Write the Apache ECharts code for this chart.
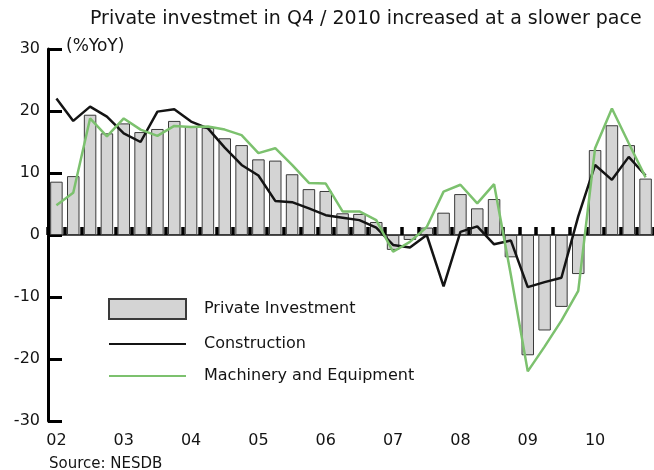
<!DOCTYPE html>
<html>
<head>
<meta charset="utf-8">
<script src="https://cdn.jsdelivr.net/npm/echarts@6/dist/echarts.min.js"></script>
<style>
  html, body { margin: 0; padding: 0; background: #ffffff; }
  #chart { width: 654px; height: 470px; }
</style>
</head>
<body>
<div id="chart"></div>
<script>
// Quarterly periods, 2002 Q1 - 2010 Q4
const quarters = [
  '2002Q1','2002Q2','2002Q3','2002Q4','2003Q1','2003Q2','2003Q3','2003Q4',
  '2004Q1','2004Q2','2004Q3','2004Q4','2005Q1','2005Q2','2005Q3','2005Q4',
  '2006Q1','2006Q2','2006Q3','2006Q4','2007Q1','2007Q2','2007Q3','2007Q4',
  '2008Q1','2008Q2','2008Q3','2008Q4','2009Q1','2009Q2','2009Q3','2009Q4',
  '2010Q1','2010Q2','2010Q3','2010Q4'
];

// Year tick labels, one per four quarters
const yearLabels = ['02', '03', '04', '05', '06', '07', '08', '09', '10'];

// Growth rates, % year on year
const privateInvestment = [
  8.6, 9.5, 19.4, 16.4, 18.0, 16.6, 17.1, 18.4,
  17.5, 17.3, 15.6, 14.5, 12.2, 12.0, 9.8, 7.4,
  7.1, 3.5, 3.4, 2.1, -2.4, -0.8, 1.2, 3.6,
  6.6, 4.3, 5.8, -3.6, -19.4, -15.4, -11.6, -6.3,
  13.7, 17.7, 14.5, 9.1
];

const construction = [
  22.0, 18.4, 20.7, 19.1, 16.4, 15.0, 19.9, 20.3,
  18.3, 17.2, 14.1, 11.3, 9.6, 5.5, 5.3, 4.3,
  3.2, 2.8, 2.4, 1.2, -1.6, -2.0, 0.0, -8.3,
  0.5, 1.4, -1.5, -0.9, -8.4, -7.6, -6.9, 3.0,
  11.3, 8.9, 12.6, 9.6
];

const machinery = [
  4.8, 6.8, 18.8, 15.9, 18.8, 17.0, 16.0, 17.6,
  17.4, 17.5, 17.0, 16.1, 13.2, 14.0, 11.3, 8.4,
  8.3, 3.8, 3.8, 2.4, -2.7, -1.1, 1.3, 7.0,
  8.1, 5.1, 8.2, -6.5, -22.0, -18.0, -13.8, -9.0,
  14.0, 20.4, 14.8, 9.3
];

const FONT = 'DejaVu Sans';
const INK = '#141414';
const GREEN = '#7cc16e';

const chart = echarts.init(document.getElementById('chart'), null, { renderer: 'canvas' });

chart.setOption({
  animation: false,
  backgroundColor: '#ffffff',
  title: {
    text: 'Private investmet in Q4 / 2010 increased at a slower pace',
    left: 85,
    top: 5,
    textStyle: { fontFamily: FONT, fontSize: 19, fontWeight: 'normal', color: INK }
  },
  grid: { left: 48, top: 49, width: 606, height: 372 },
  legend: {
    orient: 'vertical',
    left: 103,
    top: 293,
    itemWidth: 77,
    itemHeight: 20,
    itemGap: 16,
    textStyle: { fontFamily: FONT, fontSize: 16, color: INK, padding: [0, 0, 0, 13] },
    data: [
      { name: 'Private Investment', icon: 'rect' },
      // line-only keys: hide the marker drawn on the key line
      { name: 'Construction', itemStyle: { opacity: 0 } },
      { name: 'Machinery and Equipment', itemStyle: { opacity: 0 } }
    ]
  },
  xAxis: [
    {
      // zero line with quarter ticks
      type: 'category',
      data: quarters,
      boundaryGap: true,
      axisLine: { onZero: true, lineStyle: { color: INK, width: 1.5 } },
      axisTick: { show: true, interval: 0, inside: true, length: 8, lineStyle: { color: '#000', width: 3.5 } },
      axisLabel: { show: false, interval: 0 },
      splitLine: { show: false }
    },
    {
      // year labels along the bottom
      type: 'category',
      data: quarters,
      position: 'bottom',
      boundaryGap: true,
      axisLine: { show: false, onZero: false },
      axisTick: { show: false },
      splitLine: { show: false },
      axisLabel: {
        interval: 3,
        margin: 12,
        fontFamily: FONT,
        fontSize: 16,
        color: INK,
        formatter: (v, i) => yearLabels[Math.floor(i / 4)]
      }
    }
  ],
  yAxis: {
    type: 'value',
    min: -30,
    max: 30,
    interval: 10,
    axisLine: { show: true, lineStyle: { color: '#000', width: 3 } },
    axisTick: { show: true, inside: true, length: 14, lineStyle: { color: '#000', width: 3 } },
    splitLine: { show: false },
    axisLabel: { margin: 8, fontFamily: FONT, fontSize: 16, color: INK }
  },
  graphic: [
    {
      type: 'text',
      left: 66,
      top: 38,
      style: { text: '(%YoY)', font: '17px "DejaVu Sans"', fill: INK }
    },
    {
      type: 'text',
      left: 49,
      top: 457,
      style: { text: 'Source: NESDB', font: '15px "DejaVu Sans"', fill: INK }
    }
  ],
  series: [
    {
      name: 'Private Investment',
      type: 'bar',
      xAxisIndex: 0,
      data: privateInvestment,
      barWidth: 12.5,
      itemStyle: { color: '#d4d4d4', borderColor: '#3a3a3a', borderWidth: 1 }
    },
    {
      name: 'Construction',
      type: 'line',
      xAxisIndex: 0,
      data: construction,
      symbol: 'none',
      lineStyle: { color: INK, width: 2.5 },
      itemStyle: { color: INK }
    },
    {
      name: 'Machinery and Equipment',
      type: 'line',
      xAxisIndex: 0,
      data: machinery,
      symbol: 'none',
      lineStyle: { color: GREEN, width: 2.5 },
      itemStyle: { color: GREEN }
    }
  ]
});
</script>
</body>
</html>
